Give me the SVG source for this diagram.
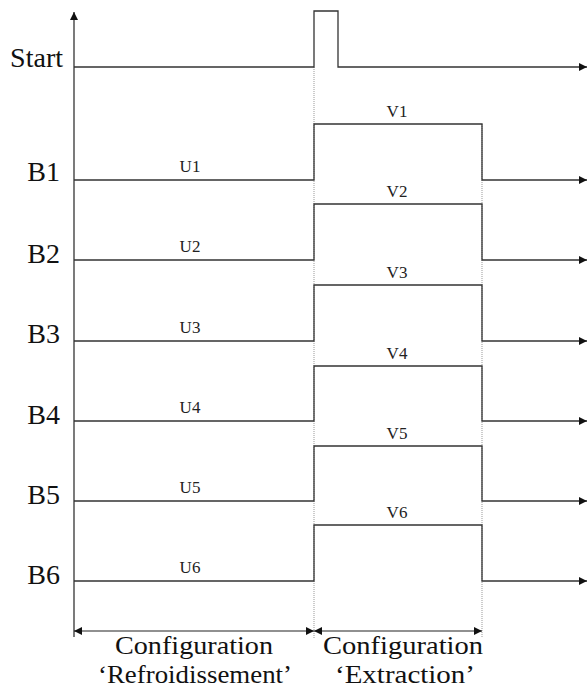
<svg xmlns="http://www.w3.org/2000/svg" width="588" height="691" viewBox="0 0 588 691">
<defs>
<style>
.sig{fill:none;stroke:#333;stroke-width:1.3}
.ax{fill:none;stroke:#222;stroke-width:1.2}
.dot{fill:none;stroke:#999;stroke-width:1;stroke-dasharray:1 1}
.big{font-family:"Liberation Serif","Times New Roman",serif;font-size:28px;fill:#111}
.cfg{font-family:"Liberation Serif","Times New Roman",serif;font-size:26px;fill:#111;text-anchor:middle}
.sm{font-family:"Liberation Serif","Times New Roman",serif;font-size:17px;fill:#222;text-anchor:middle}
</style>
<marker id="ah" viewBox="0 0 8 8" refX="8" refY="4" markerWidth="8" markerHeight="8" markerUnits="userSpaceOnUse" orient="auto-start-reverse">
<path d="M0,0 L8,4 L0,8 Z" fill="#111"/>
</marker>
</defs>
<rect width="588" height="691" fill="#fff"/>
<g id="guides">
<line class="dot" x1="314" y1="67" x2="314" y2="638"/>
<line class="dot" x1="482" y1="124" x2="482" y2="638"/>
</g>
<g id="connectors">
<line class="ax" x1="74" y1="637" x2="74" y2="12" marker-end="url(#ah)"/>
<line class="ax" x1="74" y1="631" x2="314" y2="631" marker-start="url(#ah)" marker-end="url(#ah)"/>
<line class="ax" x1="314" y1="631" x2="482" y2="631" marker-start="url(#ah)" marker-end="url(#ah)"/>
</g>
<g id="start">
<text class="big" x="63" y="67" text-anchor="end">Start</text>
<path class="sig" d="M74,67 H314 V11 H338 V67 H587" marker-end="url(#ah)"/>
</g>
<g id="b1">
<text class="big" x="60" y="181" text-anchor="end">B1</text>
<path class="sig" d="M74,180 H314 V124 H482 V180 H587" marker-end="url(#ah)"/>
<text class="sm" x="190" y="172">U1</text>
<text class="sm" x="397" y="117">V1</text>
</g>
<g id="b2">
<text class="big" x="60" y="263" text-anchor="end">B2</text>
<path class="sig" d="M74,260 H314 V204 H482 V260 H587" marker-end="url(#ah)"/>
<text class="sm" x="190" y="252">U2</text>
<text class="sm" x="397" y="197">V2</text>
</g>
<g id="b3">
<text class="big" x="60" y="343" text-anchor="end">B3</text>
<path class="sig" d="M74,341 H314 V285 H482 V341 H587" marker-end="url(#ah)"/>
<text class="sm" x="190" y="333">U3</text>
<text class="sm" x="397" y="278">V3</text>
</g>
<g id="b4">
<text class="big" x="60" y="424" text-anchor="end">B4</text>
<path class="sig" d="M74,421 H314 V366 H482 V421 H587" marker-end="url(#ah)"/>
<text class="sm" x="190" y="413">U4</text>
<text class="sm" x="397" y="359">V4</text>
</g>
<g id="b5">
<text class="big" x="60" y="504" text-anchor="end">B5</text>
<path class="sig" d="M74,501 H314 V446 H482 V501 H587" marker-end="url(#ah)"/>
<text class="sm" x="190" y="493">U5</text>
<text class="sm" x="397" y="439">V5</text>
</g>
<g id="b6">
<text class="big" x="60" y="584" text-anchor="end">B6</text>
<path class="sig" d="M74,581 H314 V525 H482 V581 H587" marker-end="url(#ah)"/>
<text class="sm" x="190" y="573">U6</text>
<text class="sm" x="397" y="518">V6</text>
</g>
<g id="cfg-refroid">
<text class="cfg" x="194" y="654" textLength="158" lengthAdjust="spacingAndGlyphs">Configuration</text>
<text class="cfg" x="195" y="683" textLength="194" lengthAdjust="spacingAndGlyphs">‘Refroidissement’</text>
</g>
<g id="cfg-extract">
<text class="cfg" x="403" y="654" textLength="160" lengthAdjust="spacingAndGlyphs">Configuration</text>
<text class="cfg" x="405" y="683" textLength="140" lengthAdjust="spacingAndGlyphs">‘Extraction’</text>
</g>
</svg>
